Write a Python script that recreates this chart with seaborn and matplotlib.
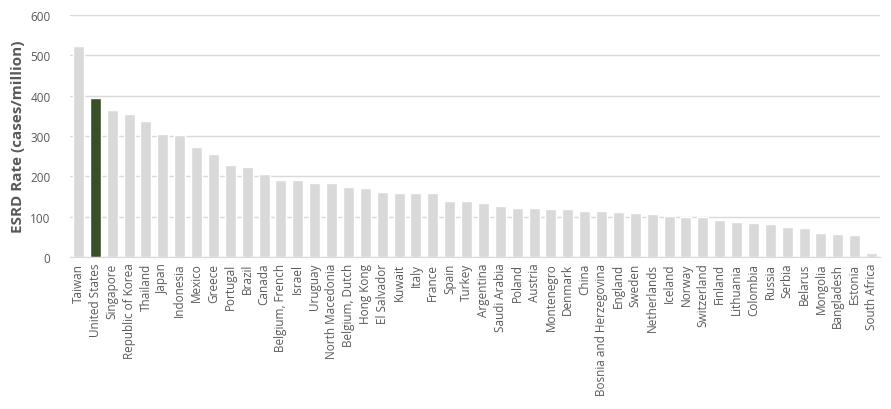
import pandas as pd
import matplotlib
matplotlib.use("Agg")
import matplotlib.pyplot as plt
import seaborn as sns

countries = ["Taiwan", "United States", "Singapore", "Republic of Korea", "Thailand",
             "Japan", "Indonesia", "Mexico", "Greece", "Portugal", "Brazil", "Canada",
             "Belgium, French", "Israel", "Uruguay", "North Macedonia", "Belgium, Dutch",
             "Hong Kong", "El Salvador", "Kuwait", "Italy", "France", "Spain", "Turkey",
             "Argentina", "Saudi Arabia", "Poland", "Austria", "Montenegro", "Denmark",
             "China", "Bosnia and Herzegovina", "England", "Sweden", "Netherlands",
             "Iceland", "Norway", "Switzerland", "Finland", "Lithuania", "Colombia",
             "Russia", "Serbia", "Belarus", "Mongolia", "Bangladesh", "Estonia",
             "South Africa"]
rates = [524, 395, 365, 355, 338, 305, 303, 273, 256, 228, 223, 206,
         191, 191, 184, 184, 174, 171, 161, 159, 159, 159, 139, 139,
         134, 127, 122, 122, 119, 119, 114, 114, 112, 109, 107, 102,
         98, 98, 92, 87, 84, 82, 74, 72, 60, 57, 55, 10]
highlight = "United States"

df = pd.DataFrame({"country": countries, "rate": rates})
palette = {c: ("#375623" if c == highlight else "#D9D9D9") for c in countries}

sns.set_style("white")
plt.rcParams["font.family"] = ["Open Sans", "DejaVu Sans"]

fig = plt.figure(figsize=(8.91, 4.10), dpi=100)
ax = fig.add_axes([0.0786, 0.3707, 0.909, 0.5903])
sns.barplot(data=df, x="country", y="rate", hue="country", palette=palette,
            width=0.65, legend=False, ax=ax, zorder=2)

ax.set_ylim(0, 600)
ax.set_xlim(-0.5, len(countries) - 0.5)
ax.set_yticks(range(0, 601, 100))
ax.yaxis.grid(True, color="#D9D9D9", linewidth=1, zorder=0)
ax.set_axisbelow(True)
for s in ["top", "right", "left"]:
    ax.spines[s].set_visible(False)
ax.spines["bottom"].set_color("#D9D9D9")
ax.tick_params(axis="both", length=0, labelsize=8.5, colors="#595959")
ax.tick_params(axis="y", pad=14)
ax.tick_params(axis="x", pad=4)
plt.setp(ax.get_xticklabels(), rotation=90)
ax.set_xlabel("")
ax.set_ylabel("ESRD Rate (cases/million)", fontsize=11, fontweight="bold",
              color="#595959", labelpad=4)

fig.savefig("out.png", dpi=100)
